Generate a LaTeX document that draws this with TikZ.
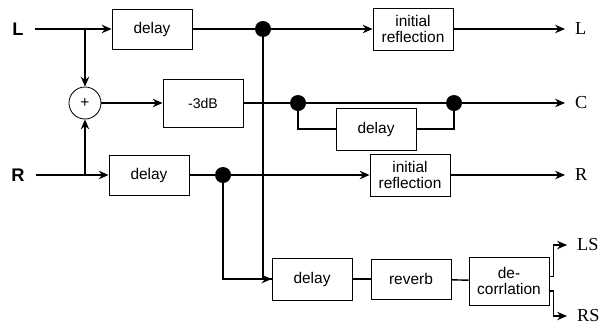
\documentclass[tikz,border=0pt]{standalone}
\usepackage{fontspec}
\setmainfont{Liberation Serif}
\setsansfont{Liberation Sans}
\usetikzlibrary{arrows.meta}

\begin{document}
\begin{tikzpicture}[x=0.025cm, y=-0.025cm,
    blk/.style={draw, line width=0.6pt, minimum width=2cm, minimum height=1cm,
                inner sep=1pt, align=center,
                font=\sffamily\fontsize{11}{12}\selectfont},
    dot/.style={circle, fill=black, inner sep=0pt, minimum size=0.4cm},
    inlab/.style={font=\sffamily\bfseries\fontsize{13}{14}\selectfont, inner xsep=8pt},
    outlab/.style={anchor=west, font=\fontsize{13}{15}\selectfont,
                   inner xsep=7pt, inner ysep=1pt},
    sig/.style={line width=1pt},
    flow/.style={line width=1pt, -{Stealth[length=7pt, width=6pt]}}]
\useasboundingbox (0,0) rectangle (615,329);

% inputs
\node[inlab] (inL) at (18, 29) {L};
\node[inlab] (inR) at (18, 175) {R};
\coordinate (tapL) at (85, 29);
\coordinate (tapR) at (85, 175);

% first row
\node[blk] (dlyL) at (152, 29) {delay};
\node[dot] (dotL) at (263, 29) {};
\node[blk, minimum height=1.05cm] (irL) at (413, 29) {initial\\reflection};
\node[outlab] (outL) at (565, 29) {L};

% centre
\node[circle, draw, line width=0.6pt, minimum size=0.8cm, inner sep=0pt,
      font=\sffamily\fontsize{11}{11}\selectfont] (sum) at (85, 103) {+};
\node[blk, minimum height=1.2cm, font=\sffamily\fontsize{10}{12}\selectfont]
      (att) at (203, 103) {-3dB};
\node[dot] (dotA) at (298, 103) {};
\node[dot] (dotB) at (454, 103) {};
\node[blk, minimum height=1.05cm] (dlyC) at (376, 129) {delay};
\node[outlab] (outC) at (565, 103) {C};

% second row
\node[blk] (dlyR) at (149, 175) {delay};
\node[dot] (dotR) at (223, 175) {};
\node[blk, minimum height=1.05cm] (irR) at (410, 175) {initial\\reflection};
\node[outlab] (outR) at (565, 175) {R};

% surround
\node[blk, minimum height=1.05cm] (dlyS) at (312, 279) {delay};
\node[blk] (rev) at (411, 279) {reverb};
\node[blk, minimum height=1.2cm] (dec) at (509, 281) {de-\\corrlation};
\node[outlab] (outLS) at (567, 245) {LS};
\node[outlab] (outRS) at (567, 316) {RS};

\draw[flow] (inL) -- (dlyL);
\draw[sig] (dlyL) -- (dotL);
\draw[flow] (dotL) -- (irL);
\draw[flow] (irL) -- (outL);

\draw[flow] (tapL) -- (sum);
\draw[flow] (tapR) -- (sum);
\draw[flow] (sum) -- (att);
\draw[sig] (att) -- (dotA);
\draw[sig] (dotA) -- (dotB);
\draw[flow] (dotB) -- (outC);
\draw[sig] (dotA) |- (dlyC);
\draw[sig] (dlyC) -| (dotB);

\draw[flow] (inR) -- (dlyR);
\draw[sig] (dlyR) -- (dotR);
\draw[flow] (dotR) -- (irR);
\draw[flow] (irR) -- (outR);

\draw[sig] (dotL) |- (dlyS);
\draw[flow] (dotR) |- (dlyS);
\draw[sig] (dlyS) -- (rev);
\draw[sig] (rev) -- (dec);
\draw[flow] ([yshift=3pt]dec.east) -- ++(4,0) |- (outLS);
\draw[flow] ([yshift=-7pt]dec.east) -- ++(4,0) |- (outRS);
\end{tikzpicture}
\end{document}
